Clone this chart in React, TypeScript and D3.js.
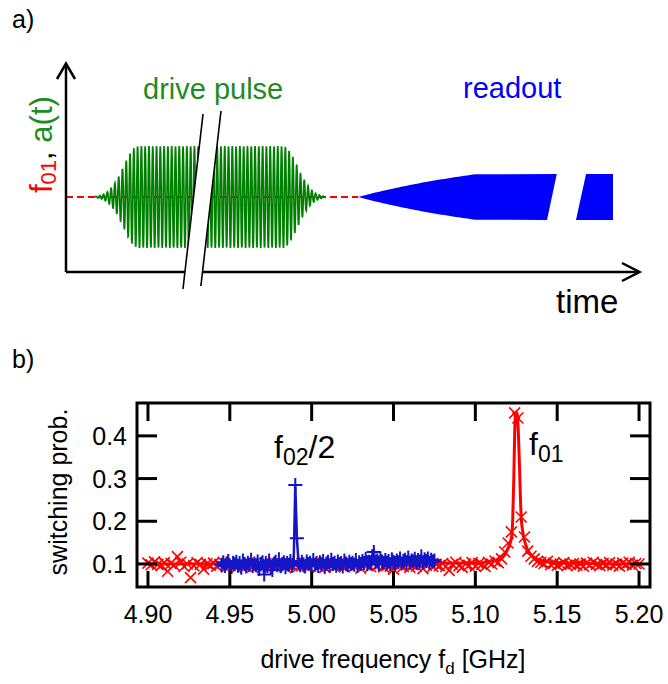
import React from 'react';
import * as d3 from 'd3';

const W = 668;
const H = 684;
const FONT = "'Liberation Sans', Arial, Helvetica, sans-serif";

// ---------- panel b data ----------
const redStart = 4.9;
const redStep = 0.002;
const redValues = [
  0.102, 0.098, 0.105, 0.099, 0.096, 0.103, 0.083, 0.101, 0.097, 0.117,
  0.104, 0.094, 0.100, 0.068, 0.096, 0.103, 0.099, 0.088, 0.101, 0.097,
  0.102, 0.095, 0.099, 0.104, 0.093, 0.100, 0.097, 0.091, 0.102, 0.098,
  0.095, 0.100, 0.093, 0.104, 0.097, 0.092, 0.101, 0.096, 0.099, 0.094,
  0.100, 0.097, 0.092, 0.103, 0.096, 0.099, 0.094, 0.101, 0.097, 0.093,
  0.099, 0.104, 0.095, 0.098, 0.092, 0.101, 0.097, 0.094, 0.100, 0.096,
  0.093, 0.099, 0.103, 0.095, 0.098, 0.090, 0.101, 0.097, 0.094, 0.100,
  0.096, 0.102, 0.093, 0.099, 0.095, 0.088, 0.101, 0.097, 0.094, 0.100,
  0.092, 0.098, 0.095, 0.101, 0.089, 0.097, 0.103, 0.094, 0.099, 0.096,
  0.101, 0.094, 0.085, 0.099, 0.104, 0.096, 0.092, 0.100, 0.097, 0.103,
  0.095, 0.101, 0.099, 0.094, 0.104, 0.100, 0.107, 0.103, 0.112, 0.128,
  0.149, 0.175, 0.454, 0.442, 0.210, 0.163, 0.130, 0.118, 0.112, 0.106,
  0.104, 0.101, 0.106, 0.098, 0.102, 0.097, 0.100, 0.103, 0.096, 0.099,
  0.101, 0.097, 0.100, 0.095, 0.102, 0.098, 0.104, 0.099, 0.096, 0.101,
  0.098, 0.103, 0.097, 0.100, 0.095, 0.102, 0.099, 0.104, 0.097, 0.101, 0.100,
];

const blueStart = 4.945;
const blueStep = 0.001;
const blueValues = [
  0.098, 0.104, 0.095, 0.101, 0.107, 0.097, 0.093, 0.103, 0.099, 0.105,
  0.096, 0.102, 0.091, 0.108, 0.100, 0.094, 0.103, 0.098, 0.110, 0.095,
  0.101, 0.097, 0.106, 0.088, 0.099, 0.104, 0.075, 0.102, 0.096, 0.108,
  0.093, 0.086, 0.101, 0.105, 0.097, 0.111, 0.095, 0.100, 0.104, 0.092,
  0.102, 0.098, 0.107, 0.096, 0.103, 0.285, 0.160, 0.101, 0.097, 0.105,
  0.099, 0.094, 0.106, 0.100, 0.103, 0.096, 0.109, 0.098, 0.102, 0.095,
  0.104, 0.099, 0.107, 0.093, 0.101, 0.105, 0.097, 0.110, 0.100, 0.103,
  0.096, 0.106, 0.099, 0.102, 0.094, 0.108, 0.101, 0.097, 0.105, 0.100,
  0.103, 0.098, 0.109, 0.095, 0.104, 0.100, 0.107, 0.102, 0.112, 0.099,
  0.105, 0.101, 0.118, 0.128, 0.104, 0.108, 0.100, 0.113, 0.106, 0.102,
  0.109, 0.103, 0.107, 0.099, 0.111, 0.105, 0.102, 0.108, 0.104, 0.113,
  0.101, 0.107, 0.110, 0.104, 0.115, 0.103, 0.108, 0.106, 0.112, 0.102,
  0.109, 0.105, 0.118, 0.104, 0.111, 0.107, 0.113, 0.103, 0.110, 0.106, 0.108,
];

// Lorentzian fit curve
const fitFreq = [4.9, 5.1, 5.11, 5.115, 5.118, 5.12, 5.122, 5.1228, 5.1235, 5.124, 5.1245, 5.125, 5.1255, 5.126, 5.1268, 5.1275, 5.128, 5.129, 5.13, 5.132, 5.135, 5.14, 5.15, 5.2];
const fitProb = [0.1, 0.102, 0.106, 0.112, 0.122, 0.137, 0.16, 0.2, 0.3, 0.4, 0.45, 0.455, 0.452, 0.43, 0.35, 0.26, 0.21, 0.175, 0.155, 0.133, 0.118, 0.108, 0.103, 0.1];

const xTicks = [4.9, 4.95, 5.0, 5.05, 5.1, 5.15, 5.2];
const yTicks = [0.1, 0.2, 0.3, 0.4];

// ---------- panel a schematic (time in arbitrary units 0..100) ----------
const drivePulse = [5.05, 12.54, 37.8, 45.1]; // start, full amplitude, fall start, end
const driveCycle = 0.66; // oscillation period
const readoutPulse = [50.9, 71.6]; // start, full amplitude
const readoutBreak = [83.8, 85.5, 88.85, 90.6, 95.3]; // bottom/top of cut, bottom/top of resume, end
const readoutAmp = 0.45;
const readoutTau = 30;
const breakLines = [
  [23.87, 20.38],
  [27.0, 23.5],
];

export default function App() {
  // panel b scales
  const x = d3.scaleLinear().domain([4.8933, 5.2067]).range([137, 650]);
  const y = d3.scaleLinear().domain([0.046, 0.477]).range([587, 403]);

  const red = redValues.map((v, i) => ({ f: redStart + i * redStep, p: v }));
  const blue = blueValues.map((v, i) => ({ f: blueStart + i * blueStep, p: v }));
  const fit = fitFreq.map((f, i) => ({ f, p: fitProb[i] }));

  const fitLine = d3
    .line<{ f: number; p: number }>()
    .x((d) => x(d.f))
    .y((d) => y(d.p))
    .curve(d3.curveMonotoneX);
  const blueLine = d3
    .line<{ f: number; p: number }>()
    .x((d) => x(d.f))
    .y((d) => y(d.p));

  // panel a scales
  const t = d3.scaleLinear().domain([0, 100]).range([66, 640]);
  const a = d3.scaleLinear().domain([-1, 1]).range([248, 146]);
  const brkY = d3.scaleLinear().domain([0, 1]).range([114, 289]);

  const sigma = (drivePulse[1] - drivePulse[0]) / 3;
  const env = (tt: number) => {
    if (tt < drivePulse[1]) return Math.exp(-0.5 * ((tt - drivePulse[1]) / sigma) ** 2);
    if (tt > drivePulse[2]) return Math.exp(-0.5 * ((tt - drivePulse[2]) / sigma) ** 2);
    return 1;
  };
  const drivePts = d3.range(drivePulse[0], drivePulse[3], 0.04).map((tt) => [
    tt,
    env(tt) * Math.sin((2 * Math.PI * (tt - drivePulse[0])) / driveCycle),
  ]);
  const waveLine = d3
    .line<number[]>()
    .x((d) => t(d[0]))
    .y((d) => a(d[1]));

  const rEnv = (tt: number) =>
    Math.min(
      1,
      (1 - Math.exp(-(tt - readoutPulse[0]) / readoutTau)) /
        (1 - Math.exp(-(readoutPulse[1] - readoutPulse[0]) / readoutTau))
    );
  const rise = d3.range(readoutPulse[0], readoutPulse[1] + 0.01, 0.5);
  const block1: number[][] = [
    ...rise.map((tt) => [tt, rEnv(tt) * readoutAmp]),
    [readoutBreak[1], readoutAmp],
    [readoutBreak[0], -readoutAmp],
    ...rise.slice().reverse().map((tt) => [tt, -rEnv(tt) * readoutAmp]),
  ];
  const block2: number[][] = [
    [readoutBreak[3], readoutAmp],
    [readoutBreak[4], readoutAmp],
    [readoutBreak[4], -readoutAmp],
    [readoutBreak[2], -readoutAmp],
  ];
  const poly = d3
    .line<number[]>()
    .x((d) => t(d[0]))
    .y((d) => a(d[1]));

  const gapPoly = [
    [t(breakLines[0][0]), brkY(0)],
    [t(breakLines[1][0]), brkY(0)],
    [t(breakLines[1][1]), brkY(1)],
    [t(breakLines[0][1]), brkY(1)],
  ];

  const xMark = (cx: number, cy: number, r: number) =>
    `M${cx - r},${cy - r}L${cx + r},${cy + r}M${cx - r},${cy + r}L${cx + r},${cy - r}`;
  const plusMark = (cx: number, cy: number, r: number) =>
    `M${cx - r},${cy}L${cx + r},${cy}M${cx},${cy - r}L${cx},${cy + r}`;

  const green = '#1e8c1e';
  const tickLen = 18;

  return (
    <svg
      width={W}
      height={H}
      style={{ position: 'absolute', left: 0, top: 0, background: '#fff' }}
      fontFamily={FONT}
    >
      <rect width={W} height={H} fill="#fff" />
      <defs>
        <clipPath id="plotClip">
          <rect x={137} y={403} width={513} height={184} />
        </clipPath>
      </defs>

      {/* ===== panel a ===== */}
      <text x={12} y={28} fontSize={25}>a)</text>

      {/* red dashed f01 line */}
      <line
        x1={t(0)}
        x2={t(readoutPulse[0])}
        y1={a(0)}
        y2={a(0)}
        stroke="#ff0000"
        strokeWidth={2}
        strokeDasharray="7,4"
      />
      {/* drive pulse */}
      <path d={waveLine(drivePts as any) || ''} fill="none" stroke="#008000" strokeWidth={1.7} />
      {/* readout */}
      <path d={poly(block1 as any) + 'Z'} fill="#0000ff" />
      <path d={poly(block2 as any) + 'Z'} fill="#0000ff" />

      {/* axes */}
      <line x1={66} y1={272} x2={66} y2={64} stroke="#000" strokeWidth={2.5} />
      <polyline points="57,79 66,63.5 75,79" fill="none" stroke="#000" strokeWidth={2.5} />
      <line x1={66} y1={272} x2={639} y2={272} stroke="#000" strokeWidth={2.5} />
      <polyline points="622,263 639.5,272 622,281" fill="none" stroke="#000" strokeWidth={2.5} />

      {/* break marks */}
      <polygon points={gapPoly.map((p) => p.join(',')).join(' ')} fill="#fff" />
      {breakLines.map((b, i) => (
        <line
          key={i}
          x1={t(b[0])}
          y1={brkY(0) - (i === 0 ? 0 : 3)}
          x2={t(b[1])}
          y2={brkY(1) - (i === 0 ? 0 : 3)}
          stroke="#000"
          strokeWidth={1.6}
        />
      ))}

      <text x={143} y={99} fontSize={29} fill={green}>drive pulse</text>
      <text x={463} y={98} fontSize={29} fill="#0000ff">readout</text>
      <text x={556} y={313} fontSize={33} fill="#000">time</text>

      <text transform="translate(52,193) rotate(-90)" fontSize={31}>
        <tspan fill="#ff0000">f</tspan>
        <tspan fill="#ff0000" fontSize={22} dy={4}>01</tspan>
        <tspan fill="#000" dy={-4}>, </tspan>
        <tspan fill={green}>a(t)</tspan>
      </text>

      {/* ===== panel b ===== */}
      <text x={12} y={368} fontSize={25}>b)</text>

      <g clipPath="url(#plotClip)">
        <path
          d={red.map((d) => xMark(x(d.f), y(d.p), 5.5)).join('')}
          stroke="#ff0000"
          strokeWidth={1.6}
          fill="none"
        />
        <path d={fitLine(fit) || ''} stroke="#ff0000" strokeWidth={3} fill="none" />
        <path d={blueLine(blue) || ''} stroke="#1515c8" strokeWidth={2.5} fill="none" />
        <path
          d={blue.map((d) => plusMark(x(d.f), y(d.p), 7)).join('')}
          stroke="#1515c8"
          strokeWidth={2}
          fill="none"
        />
      </g>

      {/* frame and ticks */}
      <rect x={137} y={403} width={513} height={184} fill="none" stroke="#000" strokeWidth={3} />
      {xTicks.map((v) => (
        <g key={'x' + v}>
          <line x1={x(v)} x2={x(v)} y1={403} y2={403 + tickLen} stroke="#000" strokeWidth={3} />
          <line x1={x(v)} x2={x(v)} y1={587} y2={587 - tickLen + 2} stroke="#000" strokeWidth={3} />
          <text x={x(v)} y={623} fontSize={25} textAnchor="middle">{v.toFixed(2)}</text>
        </g>
      ))}
      {yTicks.map((v) => (
        <g key={'y' + v}>
          <line x1={137} x2={137 + tickLen + 2} y1={y(v)} y2={y(v)} stroke="#000" strokeWidth={3} />
          <line x1={650} x2={650 - tickLen - 2} y1={y(v)} y2={y(v)} stroke="#000" strokeWidth={3} />
          <text x={127} y={y(v) + 9} fontSize={25} textAnchor="end">{v.toFixed(1)}</text>
        </g>
      ))}

      <text transform="translate(67,492) rotate(-90)" fontSize={25} textAnchor="middle">switching prob.</text>
      <text x={393} y={668} fontSize={25} textAnchor="middle">
        drive frequency f<tspan fontSize={17} dy={6}>d</tspan>
        <tspan dy={-6}> [GHz]</tspan>
      </text>

      <text x={274} y={458} fontSize={32}>
        f<tspan fontSize={23} dy={7}>02</tspan>
        <tspan dy={-7}>/2</tspan>
      </text>
      <text x={529} y={455} fontSize={32}>
        f<tspan fontSize={23} dy={7}>01</tspan>
      </text>
    </svg>
  );
}
